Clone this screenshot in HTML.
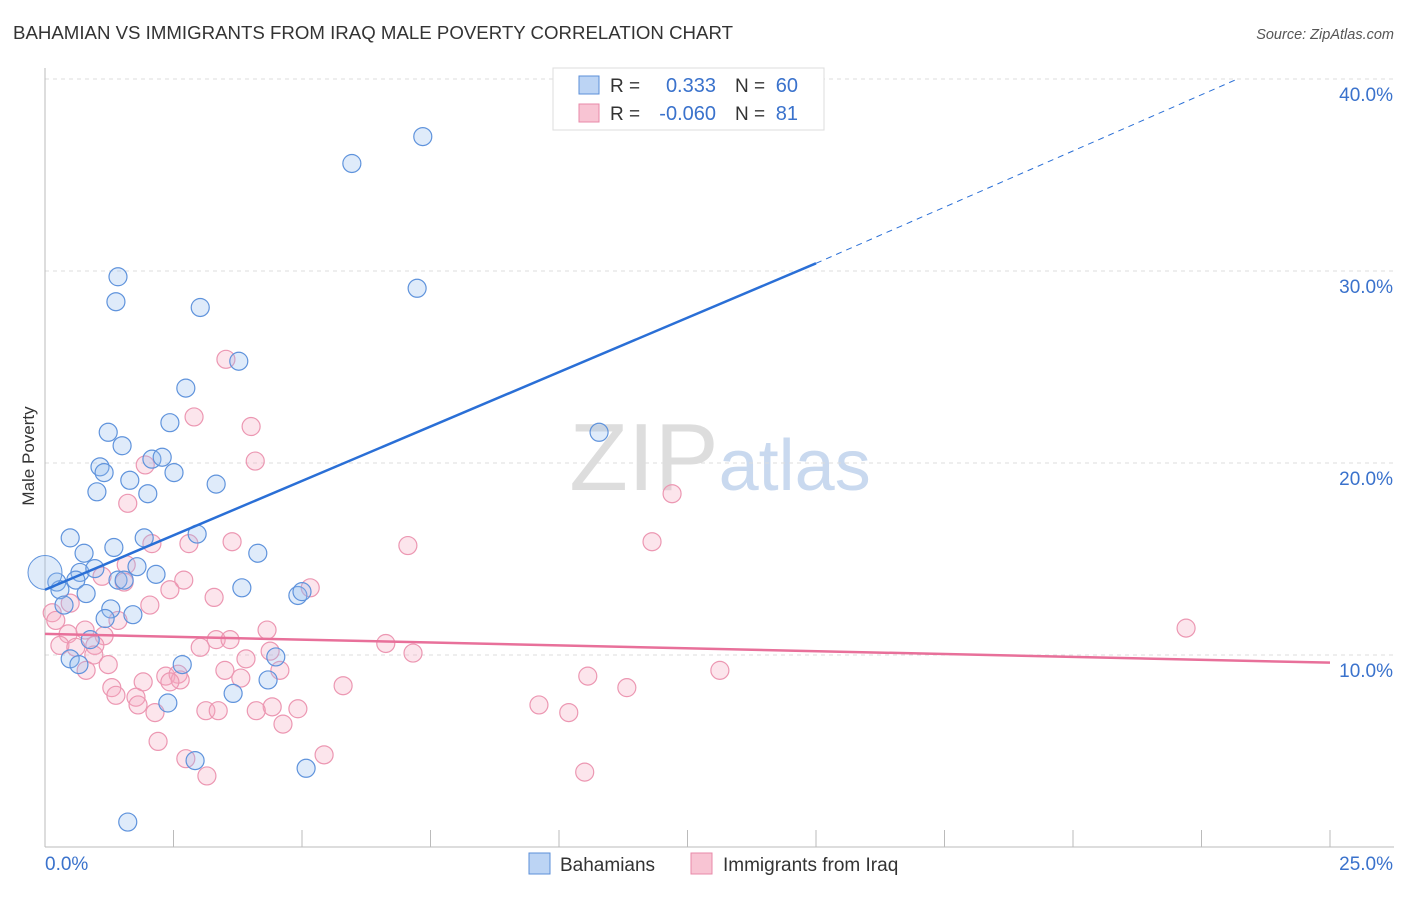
<!DOCTYPE html>
<html><head><meta charset="utf-8"><style>
body{margin:0;background:#fff;font-family:"Liberation Sans",sans-serif}
text{font-family:"Liberation Sans",sans-serif}
</style></head><body>
<svg id="chart" width="1406" height="892" xmlns="http://www.w3.org/2000/svg">
<text x="13" y="39" font-size="18" fill="#333" textLength="720" lengthAdjust="spacingAndGlyphs">BAHAMIAN VS IMMIGRANTS FROM IRAQ MALE POVERTY CORRELATION CHART</text>
<text x="1394" y="39" font-size="14.5" fill="#555" text-anchor="end" font-style="italic">Source: ZipAtlas.com</text>
<text x="720" y="490" font-size="96" fill="#ddd" text-anchor="middle" font-family="Liberation Serif">ZIP<tspan fill="#c9d9ef" font-family="Liberation Sans" font-size="72">atlas</tspan></text>
<g id="grid"></g>
<g id="axes"></g>
<g id="pts"></g>
<g id="trend"></g>
<text transform="translate(34,456) rotate(-90)" font-size="17" fill="#333" text-anchor="middle">Male Poverty</text>
<g>
<rect x="553" y="68" width="271" height="62" fill="#fff" stroke="#ddd"/>
<rect x="579" y="76" width="20" height="18" fill="#bcd4f4" stroke="#5b8fd8"/>
<rect x="579" y="104" width="20" height="18" fill="#f8c4d3" stroke="#e88aa8"/>
<text x="610" y="92" font-size="19" fill="#333">R =</text><text x="716" y="92" font-size="20" fill="#3a72cc" text-anchor="end">0.333</text>
<text x="735" y="92" font-size="19" fill="#333">N =</text><text x="798" y="92" font-size="20" fill="#3a72cc" text-anchor="end">60</text>
<text x="610" y="120" font-size="19" fill="#333">R =</text><text x="716" y="120" font-size="20" fill="#3a72cc" text-anchor="end">-0.060</text>
<text x="735" y="120" font-size="19" fill="#333">N =</text><text x="798" y="120" font-size="20" fill="#3a72cc" text-anchor="end">81</text>
</g>
<g>
<rect x="529" y="853" width="21" height="21" fill="#bcd4f4" stroke="#5b8fd8"/>
<text x="560" y="871" font-size="19" fill="#333">Bahamians</text>
<rect x="691" y="853" width="21" height="21" fill="#f8c4d3" stroke="#e88aa8"/>
<text x="723" y="871" font-size="19" fill="#333">Immigrants from Iraq</text>
</g>
</svg>
<script>
const yTicks=[10,20,30,40];
const xTickCount=10;
const blueX=[7.35,5.97,1.42,1.38,3.02,7.24,3.77,2.74,2.43,1.23,1.50,2.08,2.28,1.07,1.15,2.51,1.65,3.33,1.01,2.00,10.78,0.49,1.93,2.96,0.76,1.34,4.14,0.68,0.97,1.79,2.16,0.6,0.23,1.42,1.54,3.83,0.29,0.8,4.92,5.0,0.37,1.28,1.71,1.17,0.88,0.49,0.66,2.67,4.49,4.34,3.66,2.39,2.92,5.08,1.61];
const blueY=[37.0,35.6,29.7,28.4,28.1,29.1,25.3,23.9,22.1,21.6,20.9,20.2,20.3,19.8,19.5,19.5,19.1,18.9,18.5,18.4,21.6,16.1,16.1,16.3,15.3,15.6,15.3,14.3,14.5,14.6,14.2,13.9,13.8,13.9,13.9,13.5,13.4,13.2,13.1,13.3,12.6,12.4,12.1,11.9,10.8,9.8,9.5,9.5,9.9,8.7,8.0,7.5,4.5,4.1,1.3];
const pinkX=[3.52,2.90,4.01,4.09,1.95,12.2,1.61,2.08,2.80,3.64,7.06,11.81,1.58,1.11,2.70,1.54,2.43,5.16,3.29,2.04,0.49,0.14,0.21,1.42,4.32,22.2,0.45,0.78,1.15,3.33,3.6,0.29,0.97,0.6,6.63,4.38,7.16,3.02,0.95,1.23,3.91,0.8,3.5,4.57,13.13,10.56,2.35,2.59,2.63,2.43,3.81,5.8,11.32,1.3,1.91,1.38,1.77,1.81,3.13,3.37,4.42,4.92,4.11,9.61,10.19,2.14,4.63,2.2,5.43,2.74,3.15,10.5];
const pinkY=[25.4,22.4,21.9,20.1,19.9,18.4,17.9,15.8,15.8,15.9,15.7,15.9,14.7,14.1,13.9,13.8,13.4,13.5,13.0,12.6,12.7,12.2,11.8,11.8,11.3,11.4,11.1,11.3,11.0,10.8,10.8,10.5,10.5,10.4,10.6,10.2,10.1,10.4,10.0,9.5,9.8,9.2,9.2,9.2,9.2,8.9,8.9,9.0,8.7,8.6,8.8,8.4,8.3,8.3,8.6,7.9,7.8,7.4,7.1,7.1,7.3,7.2,7.1,7.4,7.0,7.0,6.4,5.5,4.8,4.6,3.7,3.9];
const blueTrend=[13.4,30.4,40.0];
const blueTrendX=[0,15,23.2];
const pinkTrend=[11.1,9.6];
const NS="http://www.w3.org/2000/svg";
const X=v=>45+v/25*1285, Y=v=>847-v*19.2;
function mk(t,a,p){const e=document.createElementNS(NS,t);for(const k in a)e.setAttribute(k,a[k]);p.appendChild(e);return e;}
const grid=document.getElementById('grid'),axes=document.getElementById('axes'),pts=document.getElementById('pts'),tr=document.getElementById('trend');
yTicks.forEach(v=>{
 const l=mk('line',{x1:45,x2:1394,y1:Y(v),y2:Y(v),stroke:'#ddd','stroke-dasharray':'4,4'},grid);
 
 
 const t=mk('text',{x:1393,y:Y(v)+22,'font-size':19,fill:'#3a72cc','text-anchor':'end'},axes);
 t.textContent=v.toFixed(1)+'%';
 
 
});
const xa=mk('line',{x1:45,x2:1394,y1:847,y2:847,stroke:'#bbb'},axes);


const ya=mk('line',{x1:45,x2:45,y1:68,y2:847,stroke:'#bbb'},axes);


for(let i=1;i<=xTickCount;i++){const v=25*i/xTickCount;
 const t=mk('line',{x1:X(v),x2:X(v),y1:830,y2:847,stroke:'#bbb'},axes);
 
 }
[['0.0%',45,'start'],['25.0%',1393,'end']].forEach(([s,x,a])=>{const t=mk('text',{x:x,y:870,'font-size':19,fill:'#3a72cc','text-anchor':a},axes);t.textContent=s;
 
 });
pinkX.forEach((v,i)=>{const c=mk('circle',{cx:X(v),cy:Y(pinkY[i]),r:9,fill:'rgba(244,168,192,0.3)',stroke:'#ec97b2','stroke-width':1.2},pts);
 
 });
blueX.forEach((v,i)=>{const c=mk('circle',{cx:X(v),cy:Y(blueY[i]),r:9,fill:'rgba(150,190,240,0.3)',stroke:'#5f93dc','stroke-width':1.2},pts);
 
 });
const big=mk('circle',{cx:X(0),cy:Y(14.3),r:17,fill:'rgba(150,190,240,0.3)',stroke:'#5f93dc'},pts);


const b1=mk('line',{x1:X(blueTrendX[0]),y1:Y(blueTrend[0]),x2:X(blueTrendX[1]),y2:Y(blueTrend[1]),stroke:'#2a6fd6','stroke-width':2.5},tr);


const b2=mk('line',{x1:X(blueTrendX[1]),y1:Y(blueTrend[1]),x2:X(blueTrendX[2]),y2:Y(blueTrend[2]),stroke:'#2a6fd6','stroke-width':1,'stroke-dasharray':'6,5'},tr);


const p1=mk('line',{x1:X(0),y1:Y(pinkTrend[0]),x2:X(25),y2:Y(pinkTrend[1]),stroke:'#e8709a','stroke-width':2.5},tr);


</script>
</body></html>
